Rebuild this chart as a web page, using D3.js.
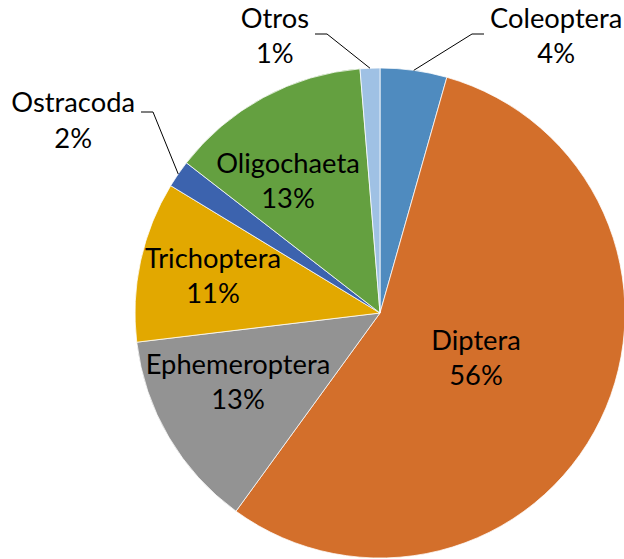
<!DOCTYPE html>
<html>
<head>
<meta charset="utf-8">
<script src="https://cdn.jsdelivr.net/npm/d3@7"></script>
<style>
  html, body { margin: 0; padding: 0; background: #fff; }
  text { font-family: Lato, "Open Sans", sans-serif; fill: #000; }
</style>
</head>
<body>
<div id="chart"></div>
<script>
// data (percent of total)
var categories = ["Coleoptera", "Diptera", "Ephemeroptera", "Trichoptera", "Ostracoda", "Oligochaeta", "Otros"];
var values = [4.4, 55.6, 13.1, 10.6, 1.8, 13.2, 1.3];
var colors = ["#4f8bbf", "#d36f2b", "#939393", "#e2a800", "#3c63ae", "#64a040", "#9fc1e4"];

var width = 624, height = 559;
var cx = 380, cy = 313, radius = 245;
var fontSize = 27.3, lineGap = 35.5;

// where each label block sits, relative to pie centre
var insideLabels = {
    Diptera: [96, 45],
    Oligochaeta: [-92, -132],
    Trichoptera: [-167, -37],
    Ephemeroptera: [-142, 69]
};
// outside labels: elbow of leader line, which side the text goes, text shift
var outsideLabels = {
    Coleoptera: { elbow: [92, -279], side: 1, dy: 2 },
    Otros: { elbow: [-53, -279], side: -1, dy: 2 },
    Ostracoda: { elbow: [-227, -201], side: -1, dy: 8.5 }
};

var total = d3.sum(values);
var fmt = d3.format(".0%");
var rows = categories.map(function (c, i) { return { name: c, value: values[i], color: colors[i] }; });

var svg = d3.select("#chart").append("svg")
    .attr("width", width)
    .attr("height", height);

var g = svg.append("g").attr("transform", "translate(" + cx + "," + cy + ")");

var pie = d3.pie().sort(null).value(function (d) { return d.value; });
var arc = d3.arc().innerRadius(0).outerRadius(radius);
var arcs = pie(rows);

g.selectAll("path.slice")
    .data(arcs)
    .enter().append("path")
    .attr("class", "slice")
    .attr("d", arc)
    .attr("fill", function (d) { return d.data.color; })
    .attr("stroke", "#fff")
    .attr("stroke-width", 0.75);

function twoLines(sel, name, pct) {
    sel.attr("text-anchor", "middle").style("font-size", fontSize + "px");
    sel.append("tspan").attr("x", 0).attr("y", -lineGap / 2 + 9.5).text(name);
    sel.append("tspan").attr("x", 0).attr("y", lineGap / 2 + 9.5).text(pct);
}

arcs.forEach(function (d) {
    var name = d.data.name;
    var pct = fmt(d.data.value / total);
    if (insideLabels[name]) {
        var p = insideLabels[name];
        var t = g.append("text").attr("transform", "translate(" + p[0] + "," + p[1] + ")");
        twoLines(t, name, pct);
    } else if (outsideLabels[name]) {
        var o = outsideLabels[name];
        var mid = (d.startAngle + d.endAngle) / 2;
        var start = [Math.sin(mid) * radius, -Math.cos(mid) * radius];
        var end = [o.elbow[0] + o.side * 12, o.elbow[1]];
        g.append("polyline")
            .attr("points", [start, o.elbow, end].map(function (q) { return q.join(","); }).join(" "))
            .attr("fill", "none")
            .attr("stroke", "#000")
            .attr("stroke-width", 1);
        var t2 = g.append("text");
        twoLines(t2, name, pct);
        // measure to put the block next to the line end
        var w = t2.node().getBBox().width;
        t2.attr("transform", "translate(" + (end[0] + o.side * (6 + w / 2)) + "," + (o.elbow[1] + o.dy) + ")");
    }
});
</script>
</body>
</html>
